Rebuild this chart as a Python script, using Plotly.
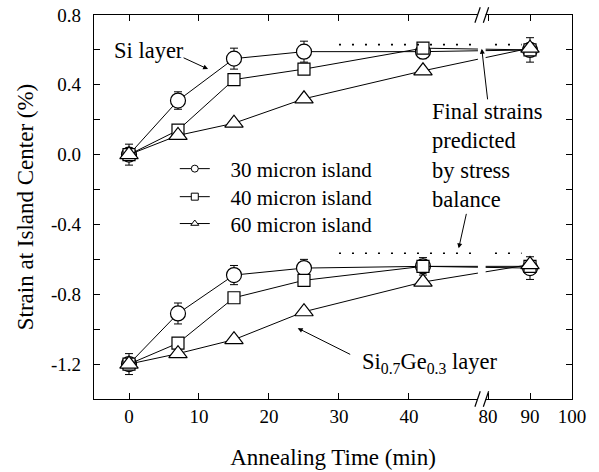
import plotly.graph_objects as go

# Annealing times (min) and strain at island centre (%)
times = [0, 7, 15, 25, 42, 90]

si_30 = [0.00, 0.31, 0.55, 0.59, 0.59, 0.60]
si_40 = [0.00, 0.14, 0.43, 0.49, 0.61, 0.60]
si_60 = [0.00, 0.11, 0.18, 0.32, 0.48, 0.61]
si_30_err = [0.06, 0.05, 0.06, 0.06, 0.04, 0.07]

sige_30 = [-1.20, -0.91, -0.69, -0.65, -0.64, -0.65]
sige_40 = [-1.20, -1.08, -0.82, -0.72, -0.64, -0.64]
sige_60 = [-1.20, -1.14, -1.06, -0.90, -0.73, -0.63]
sige_30_err = [0.06, 0.06, 0.055, 0.05, 0.05, 0.065]

# Final strains predicted by stress balance
pred_si = 0.63
pred_sige = -0.565
pred_span = [30, 88]

island_names = ["30 micron island", "40 micron island", "60 micron island"]
x_tick_labels = [0, 10, 20, 30, 40, 80, 90, 100]
y_labelled = [-1.2, -0.8, -0.4, 0.0, 0.4, 0.8]
y_minor = [-1.4, -1.0, -0.6, -0.2, 0.2, 0.6]

# Broken time axis: 0-50 min at full scale, 80-100 min compressed
BREAK_LEFT = 50.4
RIGHT_ANCHOR = 57.29   # axis position of t = 90
RIGHT_SCALE = 0.6


def axis_pos(t):
    if t <= BREAK_LEFT:
        return t
    return RIGHT_ANCHOR + RIGHT_SCALE * (t - 90)


FONT = "Liberation Serif, Times New Roman, serif"
xs = [axis_pos(t) for t in times]
symbols = ["circle", "square", "triangle-up"]
sizes = [15, 12, 16]

fig = go.Figure()

series = [
    (si_30, si_30_err, 0),
    (si_40, None, 1),
    (si_60, None, 2),
    (sige_30, sige_30_err, 0),
    (sige_40, None, 1),
    (sige_60, None, 2),
]
for vals, err, k in series:
    fig.add_trace(go.Scatter(
        x=xs, y=vals, mode="lines+markers", showlegend=False,
        line=dict(color="black", width=1),
        marker=dict(symbol=symbols[k], size=sizes[k], color="white",
                    line=dict(color="black", width=1.2)),
        error_y=dict(type="data", array=err, visible=err is not None,
                     color="black", thickness=1, width=4),
    ))

# predicted final strain levels
for level in (pred_si, pred_sige):
    fig.add_trace(go.Scatter(
        x=[axis_pos(t) for t in pred_span], y=[level, level],
        mode="lines", showlegend=False, hoverinfo="skip",
        line=dict(color="black", width=1.6, dash="2px,11px"),
    ))

# legend entries, one legend box per row so the rows sit tightly
legend_ids = ["legend", "legend2", "legend3"]
for k, name in enumerate(island_names):
    fig.add_trace(go.Scatter(
        x=[None], y=[None], mode="lines+markers",
        name="&nbsp;&nbsp;&nbsp;" + name, legend=legend_ids[k],
        line=dict(color="black", width=1),
        marker=dict(symbol=symbols[k], size=7, color="white",
                    line=dict(color="black", width=1)),
    ))

# axis break: white gap plus double slashes on both horizontal axes
fig.add_shape(type="rect", xref="x", yref="paper",
              x0=BREAK_LEFT - 0.55, x1=BREAK_LEFT + 0.55, y0=-0.012, y1=1.012,
              fillcolor="white", line=dict(width=0), layer="above")
for yb in (0.0, 1.0):
    for xc in (BREAK_LEFT - 0.6, BREAK_LEFT + 0.6):
        fig.add_shape(type="line", xref="x", yref="paper",
                      x0=xc - 0.38, x1=xc + 0.38, y0=yb - 0.02, y1=yb + 0.02,
                      line=dict(color="black", width=1.2), layer="above")

ann_font = dict(family=FONT, size=22.5, color="black")
fig.add_annotation(x=-2.5, y=0.594, xref="x", yref="y", text="Si layer",
                   showarrow=False, xanchor="left", yanchor="middle", font=ann_font)
fig.add_annotation(x=11.3, y=0.49, ax=-26, ay=-12, xref="x", yref="y", text="",
                   showarrow=True, arrowhead=2, arrowsize=1, arrowwidth=1,
                   arrowcolor="black")
fig.add_annotation(x=43.0, y=0.33, xref="x", yref="y",
                   text="Final strains<br>predicted<br>by stress<br>balance",
                   showarrow=False, xanchor="left", yanchor="top", align="left",
                   font=ann_font)
fig.add_annotation(x=50.4, y=0.606, ax=6, ay=52, xref="x", yref="y", text="",
                   showarrow=True, arrowhead=2, arrowsize=1, arrowwidth=1,
                   arrowcolor="black")
fig.add_annotation(x=47.1, y=-0.537, ax=8, ay=-36, xref="x", yref="y", text="",
                   showarrow=True, arrowhead=2, arrowsize=1, arrowwidth=1,
                   arrowcolor="black")
fig.add_annotation(x=33.0, y=-1.194, xref="x", yref="y",
                   text="Si<sub>0.7</sub>Ge<sub>0.3</sub> layer",
                   showarrow=False, xanchor="left", yanchor="middle", font=ann_font)
fig.add_annotation(x=24.1, y=-0.994, ax=54, ay=27, xref="x", yref="y", text="",
                   showarrow=True, arrowhead=2, arrowsize=1, arrowwidth=1,
                   arrowcolor="black")

axis_common = dict(showline=True, linecolor="black", linewidth=1.2, mirror="allticks",
                   ticks="inside", ticklen=6, tickwidth=1.2, tickcolor="black",
                   showgrid=False, zeroline=False, automargin=False,
                   tickfont=dict(family=FONT, size=19, color="black"))

fig.update_xaxes(range=[-5, axis_pos(100)],
                 tickvals=[axis_pos(t) for t in x_tick_labels],
                 ticktext=[str(t) for t in x_tick_labels],
                 title=dict(text="Annealing Time (min)", standoff=22,
                            font=dict(family=FONT, size=23, color="black")),
                 **axis_common)
fig.update_yaxes(range=[-1.4, 0.8],
                 tickvals=y_labelled,
                 ticktext=[f"{v:.1f}" for v in y_labelled],
                 ticklabelstandoff=8,
                 minor=dict(tickvals=y_minor, ticks="inside", ticklen=6,
                            tickwidth=1.2, tickcolor="black", showgrid=False),
                 title=dict(text="Strain at Island Center (%)", standoff=10,
                            font=dict(family=FONT, size=23, color="black")),
                 **axis_common)

legend_style = dict(x=0.169, xanchor="left", yanchor="middle",
                    bgcolor="rgba(0,0,0,0)",
                    font=dict(family=FONT, size=21, color="black"))
fig.update_layout(
    width=599, height=472,
    margin=dict(l=94, r=27, t=15, b=73),
    paper_bgcolor="white", plot_bgcolor="white",
    font=dict(family=FONT, color="black"),
    legend=dict(y=0.599, **legend_style),
    legend2=dict(y=0.526, **legend_style),
    legend3=dict(y=0.456, **legend_style),
)

fig.write_html("out.html")
